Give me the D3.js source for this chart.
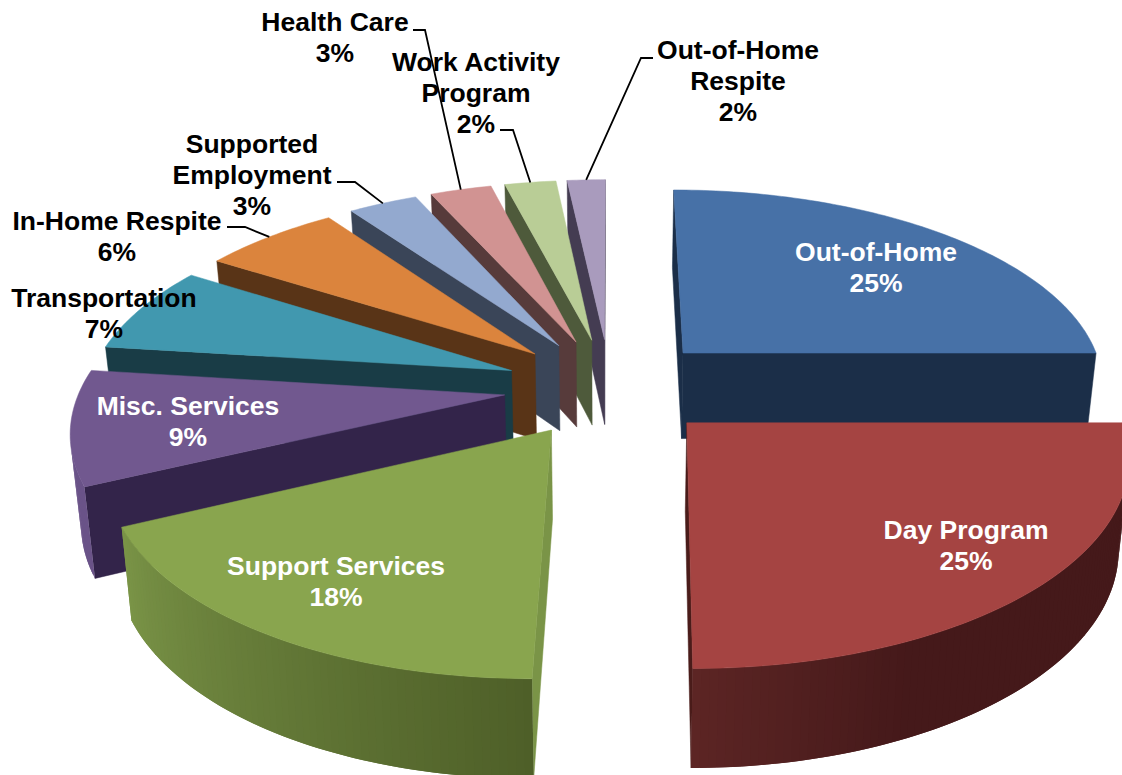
<!DOCTYPE html>
<html>
<head>
<meta charset="utf-8">
<script src="https://cdn.jsdelivr.net/npm/d3@7/dist/d3.min.js"></script>
<style>html,body{margin:0;padding:0;background:#fff}svg{display:block}</style>
</head>
<body>
<svg id="chart" width="1122" height="775"></svg>
<script>
// ---- data ----
const categories = ["Out-of-Home","Day Program","Support Services","Misc. Services","Transportation","In-Home Respite","Supported Employment","Health Care","Work Activity Program","Out-of-Home Respite"];
const values = [25,25,17.9,9.1,7,6.15,3.1,2.75,2.3,1.7];
const labelLines = [["Out-of-Home"],["Day Program"],["Support Services"],["Misc. Services"],["Transportation"],["In-Home Respite"],["Supported","Employment"],["Health Care"],["Work Activity","Program"],["Out-of-Home","Respite"]];

// ---- styles ----
const topColors   = ["#4771A7","#A54442","#89A54E","#71588F","#4198AF","#DB843D","#93A9CF","#D19392","#B9CD96","#A99BBD"];
const startWalls  = ["#1B2E48","#4A1C1A","#7A9447","#33244A","#193C46","#593417","#3A4558","#573B3B","#4E5A3B","#443C52"];
const endWalls    = ["#1B2E48","#4A1C1A","#4F5F28","#33244A","#193C46","#593417","#3A4558","#573B3B","#4E5A3B","#443C52"];
const curveFrom   = ["#1B2E48","#45191A","#4E5F28","#6A5388","#193C46","#593417","#3A4558","#573B3B","#4E5A3B","#443C52"];
const curveTo     = ["#1B2E48","#5C2524","#7A9447","#6A5388","#193C46","#593417","#3A4558","#573B3B","#4E5A3B","#443C52"];
const curveHold   = [0,0.72,0,0,0,0,0,0,0,0];
const labelColors = ["#fff","#fff","#fff","#fff","#000","#000","#000","#000","#000","#000"];
// label layout: centre x, first baseline y
const labelX = [876,966,336,188,104,117,252,335,476,738];
const labelY = [261,539,575,415,307,230,153,31,71,59];
const lineHeight = 31;
// leader lines: start of the line, elbow; the end comes from the slice
const leaders = {5:[[227,227],[245,227]],6:[[337,182],[355,182]],7:[[413,30],[425,30]],8:[[500,130],[513,130]],9:[[653,58],[641,58]]};

// ---- projection ----
const cx=610, cy=387, Rx=424, Ry=197, explode=0.25, persp=0.15, depth=87, depthPow=0.69, shrink=0.98, shear=6;
function wOf(Y){return 1/(1-persp*Y);}
function proj(X,Y,bottom){
  const w=wOf(Y);
  let x=cx+X*Rx*w - shear*Math.max(0,Y)*Math.max(0,Y);
  let y=cy+Y*Ry*w;
  if(bottom){ x=cx+(x-cx)*shrink; y+=depth*Math.pow(w,depthPow); }
  return [x,y];
}
const pt=(a,r,m,b)=>proj(r*Math.sin(a)+explode*Math.sin(m),-r*Math.cos(a)-explode*Math.cos(m),b);

const slices=d3.pie().sort(null)(values).map((d,i)=>({...d,i,mid:(d.startAngle+d.endAngle)/2}));
const order=slices.slice().sort((a,b)=>d3.ascending(-Math.cos(a.mid),-Math.cos(b.mid)));
const svg=d3.select("#chart");
const line=d3.line();
const gPie=svg.append("g");

function poly(g,pts,color,sw){
  g.append("path").attr("d",line(pts)+"Z").attr("fill",color).attr("stroke",sw?color:"none").attr("stroke-width",sw||0);
}
order.forEach(s=>{
  const g=gPie.append("g").attr("class","slice").datum(s);
  const a0=s.startAngle,a1=s.endAngle,m=s.mid,i=s.i;
  const wall=(a,sign,c)=>{
    const q=[pt(a,0,m,false),pt(a,1,m,false),pt(a,1,m,true),pt(a,0,m,true)];
    if(d3.polygonArea(q)*sign>0) poly(g,q,c,0.5);
  };
  wall(a1,-1,endWalls[i]);
  wall(a0,1,startWalls[i]);
  const steps=Math.max(4,Math.round((a1-a0)*60));
  const da=(a1-a0)/steps;
  const col=d3.scaleLinear().domain([a0,a0+(a1-a0)*curveHold[i],a1]).range([curveFrom[i],curveFrom[i],curveTo[i]]).interpolate(d3.interpolateRgb);
  // strips overlap the next one, so no seams show
  d3.range(steps).forEach(k=>{
    const b0=a0+da*k,b1=Math.min(a1,b0+da*2),b2=b0+da;
    const q=[pt(b0,1,m,false),pt(b1,1,m,false),pt(b1,1,m,true),pt(b0,1,m,true)];
    const qc=[pt(b0,1,m,false),pt(b2,1,m,false),pt(b2,1,m,true),pt(b0,1,m,true)];
    if(d3.polygonArea(qc)>0 && (d3.polygonArea(q)>0)) poly(g,q,col(b0+da/2));
  });
  const top=[pt(0,0,m,false)];
  const n=Math.max(8,Math.round((a1-a0)*60));
  d3.range(n+1).forEach(k=>top.push(pt(a0+(a1-a0)*k/n,1,m,false)));
  poly(g,top,topColors[i],0.5);
});

// leader lines
const gLead=svg.append("g");
Object.keys(leaders).forEach(k=>{
  const s=slices[+k];
  const pts=[...leaders[k],pt(s.mid,1,s.mid,false)];
  gLead.append("path").attr("d",line(pts)).attr("fill","none").attr("stroke","#000").attr("stroke-width",1.8);
});

// labels
const gText=svg.append("g").attr("font-family","'Liberation Sans',Arial,sans-serif").attr("font-weight","bold").attr("font-size",26.5).attr("text-anchor","middle");
slices.forEach(s=>{
  const i=s.i;
  const t=gText.append("text").attr("fill",labelColors[i]);
  const rows=[...labelLines[i],Math.round(values[i])+"%"];
  rows.forEach((r,j)=>t.append("tspan").attr("x",labelX[i]).attr("y",labelY[i]+j*lineHeight).text(r));
});
</script>
</body>
</html>
